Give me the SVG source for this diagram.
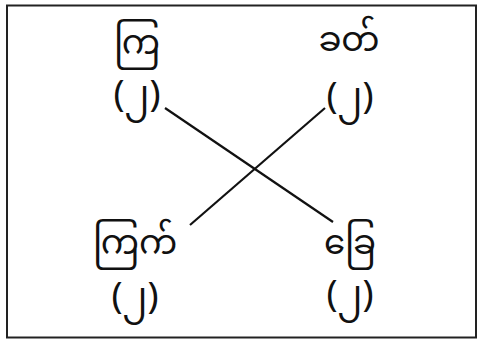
<svg xmlns="http://www.w3.org/2000/svg" width="481" height="341" viewBox="0 0 481 341">
<style>
.t{font-family:"Noto Sans Myanmar","Padauk","Myanmar Text","Noto Sans",sans-serif;font-size:34px;fill:#111;text-anchor:middle}
.p{font-size:37px}
.c{stroke:#111;stroke-width:2.2;fill:none}
</style>
<rect x="0" y="0" width="481" height="341" fill="#fff"/>
<rect x="7" y="5.5" width="469" height="332" fill="none" stroke="#222" stroke-width="2"/>
<g id="connectors">
<line class="c" x1="165" y1="108" x2="333" y2="222"/>
<line class="c" x1="190" y1="225" x2="325" y2="108"/>
</g>
<g id="n1"><text class="t" x="137" y="54">ကြ</text><text class="t p" x="137" y="106">(၂)</text></g>
<g id="n2"><text class="t" x="349" y="51">ခတ်</text><text class="t p" x="350" y="108">(၂)</text></g>
<g id="n3"><text class="t" x="135" y="254">ကြက်</text><text class="t p" x="135" y="308">(၂)</text></g>
<g id="n4"><text class="t" x="350" y="254">ခြေ</text><text class="t p" x="350" y="306">(၂)</text></g>
</svg>
